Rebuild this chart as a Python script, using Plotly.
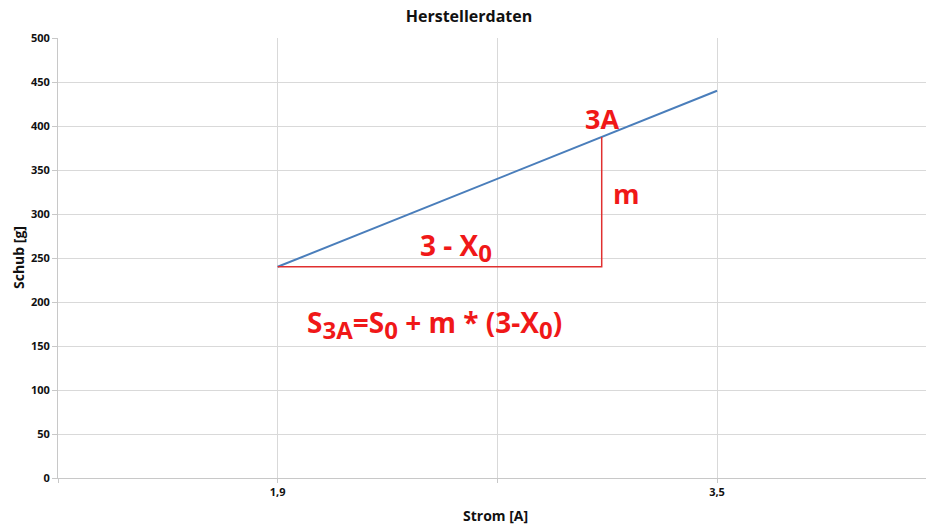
import plotly.graph_objects as go

# Data
strom = [1.9, 3.5]            # Strom [A]
schub = [240, 440]            # Schub [g]
x_mark = 3.08                 # marked current (drawn position of "3A")
y_tick_vals = [0, 50, 100, 150, 200, 250, 300, 350, 400, 450, 500]
x_grid_vals = [1.1, 1.9, 2.7, 3.5]
x_tick_text = ["", "1,9", "", "3,5"]

# derived point on the line
slope = (schub[1] - schub[0]) / (strom[1] - strom[0])
y_mark = schub[0] + slope * (x_mark - strom[0])

FONT = "Open Sans"
RED = "#f01818"
LRED = "#e03030"
W, H = 926, 526


def sub(t, size=24):
    return '<sub><span style="font-size:%dpx">%s</span></sub>' % (size, t)


fig = go.Figure()
fig.add_trace(go.Scatter(x=strom, y=schub, mode="lines",
                         line=dict(color="#4a7ebb", width=2), showlegend=False,
                         hoverinfo="skip"))
fig.add_trace(go.Scatter(x=[strom[0], x_mark, x_mark], y=[schub[0], schub[0], y_mark],
                         mode="lines", line=dict(color=LRED, width=1.5),
                         showlegend=False, hoverinfo="skip"))

ann = []
ann.append(dict(x=x_mark, y=y_mark, xref="x", yref="y", text="<b>3A</b>",
                showarrow=False, xanchor="center", yanchor="bottom", yshift=-2,
                font=dict(family=FONT, size=27, color=RED)))
ann.append(dict(x=x_mark, y=(schub[0] + y_mark) / 2, xref="x", yref="y", text="<b>m</b>",
                showarrow=False, xanchor="left", yanchor="middle", xshift=9, yshift=8,
                font=dict(family=FONT, size=27, color=RED)))
ann.append(dict(x=(strom[0] + x_mark) / 2 + 0.06, y=schub[0], xref="x", yref="y",
                text="<b>3 - X" + sub("0", 24) + "</b>",
                showarrow=False, xanchor="center", yanchor="bottom", yshift=-4,
                font=dict(family=FONT, size=28, color=RED)))
ann.append(dict(x=strom[0] + 0.10, y=152, xref="x", yref="y",
                text="<b>S" + sub("3A") + "=S" + sub("0") + " + m * (3-X" + sub("0") + ")</b>",
                showarrow=False, xanchor="left", yanchor="bottom", yshift=-4,
                font=dict(family=FONT, size=28, color=RED)))
# axis titles
ann.append(dict(x=2.7, y=0, xref="x", yref="paper", text="<b>Strom [A]</b>",
                showarrow=False, xanchor="center", yanchor="middle", yshift=-37, xshift=-2,
                font=dict(family=FONT, size=14, color="#111")))
ann.append(dict(x=0, y=0.5, xref="paper", yref="paper", text="<b>Schub [g]</b>",
                showarrow=False, xanchor="center", yanchor="middle", xshift=-40,
                textangle=-90, font=dict(family=FONT, size=14, color="#111")))

tickfont = dict(family=FONT, size=11, color="#111", weight="bold")

fig.update_layout(
    width=W, height=H,
    margin=dict(l=58, r=0, t=38, b=48),
    paper_bgcolor="white", plot_bgcolor="white",
    title=dict(text="<b>Herstellerdaten</b>", x=469 / W, xanchor="center",
               y=1 - 16 / H, yanchor="middle",
               font=dict(family=FONT, size=16, color="#111")),
    annotations=ann,
    xaxis=dict(range=[1.1, 1.1 + 868 / 274.6], tickmode="array",
               tickvals=x_grid_vals, ticktext=x_tick_text,
               showgrid=True, gridcolor="#d9d9d9", gridwidth=1,
               zeroline=False, showline=True, linecolor="#c8c8c8",
               ticks="outside", ticklen=4, tickcolor="#c8c8c8",
               tickfont=tickfont, fixedrange=True),
    yaxis=dict(range=[0, 500], tickmode="array", tickvals=y_tick_vals,
               showgrid=True, gridcolor="#d9d9d9", gridwidth=1,
               zeroline=False, showline=True, linecolor="#c8c8c8",
               ticks="outside", ticklen=5, tickcolor="#c8c8c8",
               tickfont=tickfont, fixedrange=True),
)

fig.write_html("out.html", config={"displayModeBar": False},
               post_script="document.body.style.margin='0';"
                           "document.body.style.overflow='hidden';")
